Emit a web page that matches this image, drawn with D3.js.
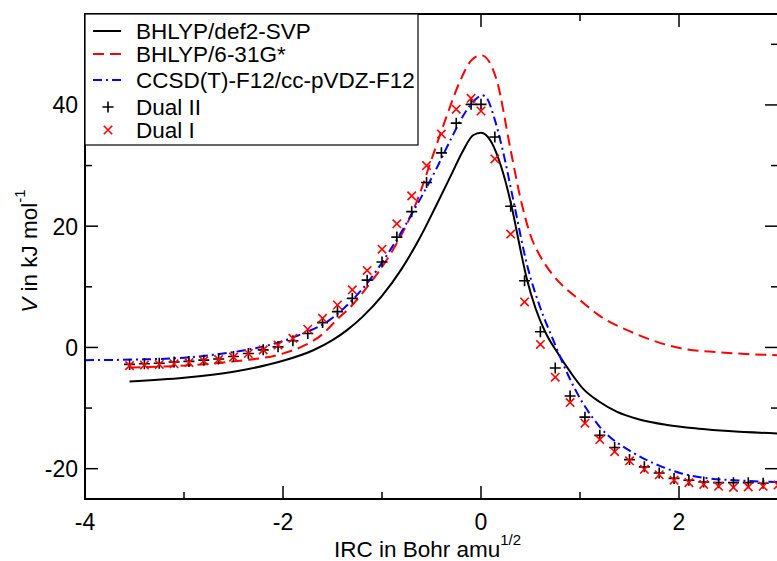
<!DOCTYPE html>
<html>
<head>
<meta charset="utf-8">
<script src="https://cdn.jsdelivr.net/npm/d3@7"></script>
<style>
  body { margin: 0; background: #fff; }
  text { font-family: "Liberation Sans", Arial, sans-serif; fill: #000; }
</style>
</head>
<body>
<div id="chart"></div>
<script>
// BHLYP/def2-SVP (solid black)
const svpX = [-3.55, -3.0, -2.5, -2.0, -1.7, -1.5, -1.35, -1.2, -1.0, -0.8, -0.62, -0.45, -0.3, -0.18, -0.08, 0.0, 0.1, 0.2, 0.31, 0.4, 0.46, 0.55, 0.65, 0.77, 0.9, 1.03, 1.2, 1.37, 1.6, 1.88, 2.2, 2.5, 3.0];
const svpV = [-5.6, -5.0, -4.0, -2.2, -0.5, 1.2, 2.9, 5.0, 8.5, 13.0, 18.0, 23.5, 28.5, 32.5, 35.0, 35.4, 34.0, 30.0, 23.2, 16.0, 11.5, 6.5, 2.5, -0.8, -4.0, -6.8, -9.0, -10.6, -11.9, -12.8, -13.4, -13.8, -14.2];

// BHLYP/6-31G* (red dashed)
const g631X = [-3.55, -3.0, -2.5, -2.0, -1.8, -1.6, -1.46, -1.3, -1.12, -0.95, -0.79, -0.65, -0.5, -0.35, -0.21, -0.1, 0.0, 0.08, 0.16, 0.3, 0.4, 0.5, 0.6, 0.7, 0.85, 1.0, 1.2, 1.54, 1.8, 2.04, 2.5, 3.0];
const g631V = [-3.3, -3.0, -2.3, -1.0, 0.2, 2.2, 4.5, 7.0, 10.6, 14.5, 19.0, 24.0, 31.0, 38.0, 44.0, 47.3, 48.2, 47.2, 44.0, 32.5, 24.5, 18.5, 15.0, 12.5, 9.8, 7.8, 5.2, 2.4, 0.8, -0.2, -0.9, -1.3];

// CCSD(T)-F12/cc-pVDZ-F12 (blue dash-dot)
const ccX = [-4.0, -3.5, -3.0, -2.7, -2.4, -2.03, -1.8, -1.53, -1.35, -1.15, -0.9, -0.62, -0.45, -0.3, -0.15, -0.05, 0.01, 0.07, 0.12, 0.22, 0.32, 0.47, 0.6, 0.73, 0.85, 0.97, 1.2, 1.54, 1.8, 2.01, 2.3, 2.55, 3.0];
const ccV = [-2.1, -2.0, -1.7, -1.2, -0.5, 0.9, 2.3, 4.5, 7.0, 10.6, 16.5, 24.3, 29.5, 34.5, 39.0, 41.0, 41.6, 40.8, 38.6, 32.5, 24.8, 13.3, 6.5, 1.2, -3.5, -7.5, -13.1, -17.4, -19.5, -20.7, -21.6, -21.9, -22.2];

// Dual II (black +)
const dual2X = [-3.55, -3.4, -3.25, -3.1, -2.95, -2.8, -2.65, -2.5, -2.35, -2.2, -2.05, -1.9, -1.75, -1.6, -1.45, -1.3, -1.15, -1.0, -0.85, -0.7, -0.55, -0.4, -0.25, -0.1, 0.0, 0.14, 0.3, 0.44, 0.6, 0.75, 0.9, 1.05, 1.2, 1.35, 1.5, 1.65, 1.8, 1.95, 2.1, 2.25, 2.4, 2.55, 2.7, 2.85];
const dual2V = [-2.8, -2.7, -2.6, -2.4, -2.3, -2.1, -1.9, -1.5, -1.0, -0.4, 0.1, 1.1, 2.3, 4.1, 5.9, 8.1, 11.1, 14.1, 18.2, 22.4, 27.2, 32.1, 37.0, 40.1, 40.1, 34.7, 23.3, 11.0, 2.6, -3.4, -8.0, -11.5, -14.5, -16.5, -18.5, -19.7, -20.7, -21.6, -21.9, -22.2, -22.3, -22.3, -22.3, -22.4];

// Dual I (red x)
const dual1X = [-3.55, -3.4, -3.25, -3.1, -2.95, -2.8, -2.65, -2.5, -2.35, -2.2, -2.05, -1.9, -1.75, -1.6, -1.45, -1.3, -1.15, -1.0, -0.85, -0.7, -0.55, -0.4, -0.25, -0.1, 0.0, 0.14, 0.3, 0.44, 0.6, 0.75, 0.9, 1.05, 1.2, 1.35, 1.5, 1.65, 1.8, 1.95, 2.1, 2.25, 2.4, 2.55, 2.7, 2.85, 3.0];
const dual1V = [-3.0, -2.9, -2.8, -2.7, -2.5, -2.2, -2.0, -1.6, -1.0, -0.4, 0.4, 1.5, 3.0, 4.8, 7.0, 9.5, 12.7, 16.2, 20.4, 25.0, 30.0, 35.2, 39.3, 41.1, 39.0, 31.1, 18.7, 7.5, 0.5, -4.9, -9.1, -12.5, -15.2, -17.2, -18.7, -20.1, -21.0, -21.9, -22.3, -22.6, -22.9, -23.1, -23.0, -22.9, -22.7];

const xMajor = [-4, -2, 0, 2];
const xMinor = [-3, -1, 1, 3];
const yMajor = [-20, 0, 20, 40];
const yMinor = [-10, 10, 30, 50];

const legendLabels = ["BHLYP/def2-SVP", "BHLYP/6-31G*", "CCSD(T)-F12/cc-pVDZ-F12", "Dual II", "Dual I"];

const width = 777, height = 561;
const margin = { left: 85, top: 14, right: -1, bottom: 62 };
const x0 = margin.left, x1 = width - margin.right;
const y0 = margin.top, y1 = height - margin.bottom;

const svg = d3.select("#chart").append("svg")
  .attr("width", width)
  .attr("height", height);

const x = d3.scaleLinear().domain([-4, 3]).range([x0, x1]);
const y = d3.scaleLinear().domain([-25, 55]).range([y1, y0]);

svg.append("defs").append("clipPath").attr("id", "clip")
  .append("rect").attr("x", x0).attr("y", y0).attr("width", x1 - x0).attr("height", y1 - y0);

const plot = svg.append("g").attr("clip-path", "url(#clip)");

const line = d3.line()
  .x(d => x(d[0]))
  .y(d => y(d[1]))
  .curve(d3.curveMonotoneX);

const lines = [
  { xs: svpX, vs: svpV, color: "#000", dash: null },
  { xs: g631X, vs: g631V, color: "#ff0000", dash: "11,6" },
  { xs: ccX, vs: ccV, color: "#0000ff", dash: "9,4,2,4" }
];

lines.forEach(s => {
  plot.append("path")
    .datum(d3.zip(s.xs, s.vs))
    .attr("fill", "none")
    .attr("stroke", s.color)
    .attr("stroke-width", 2)
    .attr("stroke-dasharray", s.dash)
    .attr("d", line);
});

// markers
const plusSize = 5.5, crossSize = 4.2;
function plus(g, cx, cy, color) {
  g.append("path")
    .attr("d", `M${cx - plusSize},${cy}H${cx + plusSize}M${cx},${cy - plusSize}V${cy + plusSize}`)
    .attr("stroke", color).attr("stroke-width", 1.6).attr("fill", "none");
}
function cross(g, cx, cy, color) {
  g.append("path")
    .attr("d", `M${cx - crossSize},${cy - crossSize}L${cx + crossSize},${cy + crossSize}M${cx - crossSize},${cy + crossSize}L${cx + crossSize},${cy - crossSize}`)
    .attr("stroke", color).attr("stroke-width", 1.6).attr("fill", "none");
}

const markG = svg.append("g");
d3.zip(dual2X, dual2V).forEach(d => plus(markG, x(d[0]), y(d[1]), "#000"));
d3.zip(dual1X, dual1V).forEach(d => cross(markG, x(d[0]), y(d[1]), "#ff0000"));

// frame
svg.append("rect")
  .attr("x", x0).attr("y", y0)
  .attr("width", x1 - x0).attr("height", y1 - y0)
  .attr("fill", "none").attr("stroke", "#000").attr("stroke-width", 2);

// ticks on all sides, inward
const major = 13, minor = 7;
const tickG = svg.append("g").attr("stroke", "#000").attr("stroke-width", 1.5);
xMajor.concat(xMinor).forEach(v => {
  const len = xMajor.includes(v) ? major : minor;
  tickG.append("line").attr("x1", x(v)).attr("x2", x(v)).attr("y1", y1).attr("y2", y1 - len);
  tickG.append("line").attr("x1", x(v)).attr("x2", x(v)).attr("y1", y0).attr("y2", y0 + len);
});
yMajor.concat(yMinor).forEach(v => {
  const len = yMajor.includes(v) ? major : minor;
  tickG.append("line").attr("y1", y(v)).attr("y2", y(v)).attr("x1", x0).attr("x2", x0 + len);
  tickG.append("line").attr("y1", y(v)).attr("y2", y(v)).attr("x1", x1).attr("x2", x1 - len);
});

// tick labels
svg.append("g").selectAll("text").data(xMajor).join("text")
  .attr("x", d => x(d))
  .attr("y", y1 + 31)
  .attr("text-anchor", "middle")
  .attr("font-size", 23)
  .text(d => d);

svg.append("g").selectAll("text").data(yMajor).join("text")
  .attr("x", x0 - 7)
  .attr("y", d => y(d) + 8.5)
  .attr("text-anchor", "end")
  .attr("font-size", 23)
  .text(d => d);

// axis titles
const xt = svg.append("text")
  .attr("x", (x0 + x1) / 2 - 4)
  .attr("y", 557)
  .attr("text-anchor", "middle")
  .attr("font-size", 22.5);
xt.append("tspan").text("IRC in Bohr amu");
xt.append("tspan").attr("dy", -12).attr("font-size", 15).text("1/2");

const yt = svg.append("text")
  .attr("transform", `translate(37, 251) rotate(-90)`)
  .attr("text-anchor", "middle")
  .attr("font-size", 22.5);
yt.append("tspan").attr("font-style", "italic").text("V");
yt.append("tspan").text(" in kJ mol");
yt.append("tspan").attr("dy", -12).attr("font-size", 15).text("-1");

// legend
const leg = svg.append("g");
leg.append("rect")
  .attr("x", x0).attr("y", y0)
  .attr("width", 333).attr("height", 131)
  .attr("fill", "#fff").attr("stroke", "#000").attr("stroke-width", 1.2);

const rowY = [31, 54, 80, 107, 130];
lines.forEach((s, i) => {
  leg.append("line")
    .attr("x1", 93).attr("x2", 121)
    .attr("y1", rowY[i]).attr("y2", rowY[i])
    .attr("stroke", s.color).attr("stroke-width", 2)
    .attr("stroke-dasharray", s.dash);
});
plus(leg, 108, rowY[3], "#000");
cross(leg, 108, rowY[4], "#ff0000");

leg.selectAll("text.lab").data(legendLabels).join("text")
  .attr("class", "lab")
  .attr("x", 136)
  .attr("y", (d, i) => rowY[i] + 7.5)
  .attr("font-size", 22.5)
  .text(d => d);
</script>
</body>
</html>
